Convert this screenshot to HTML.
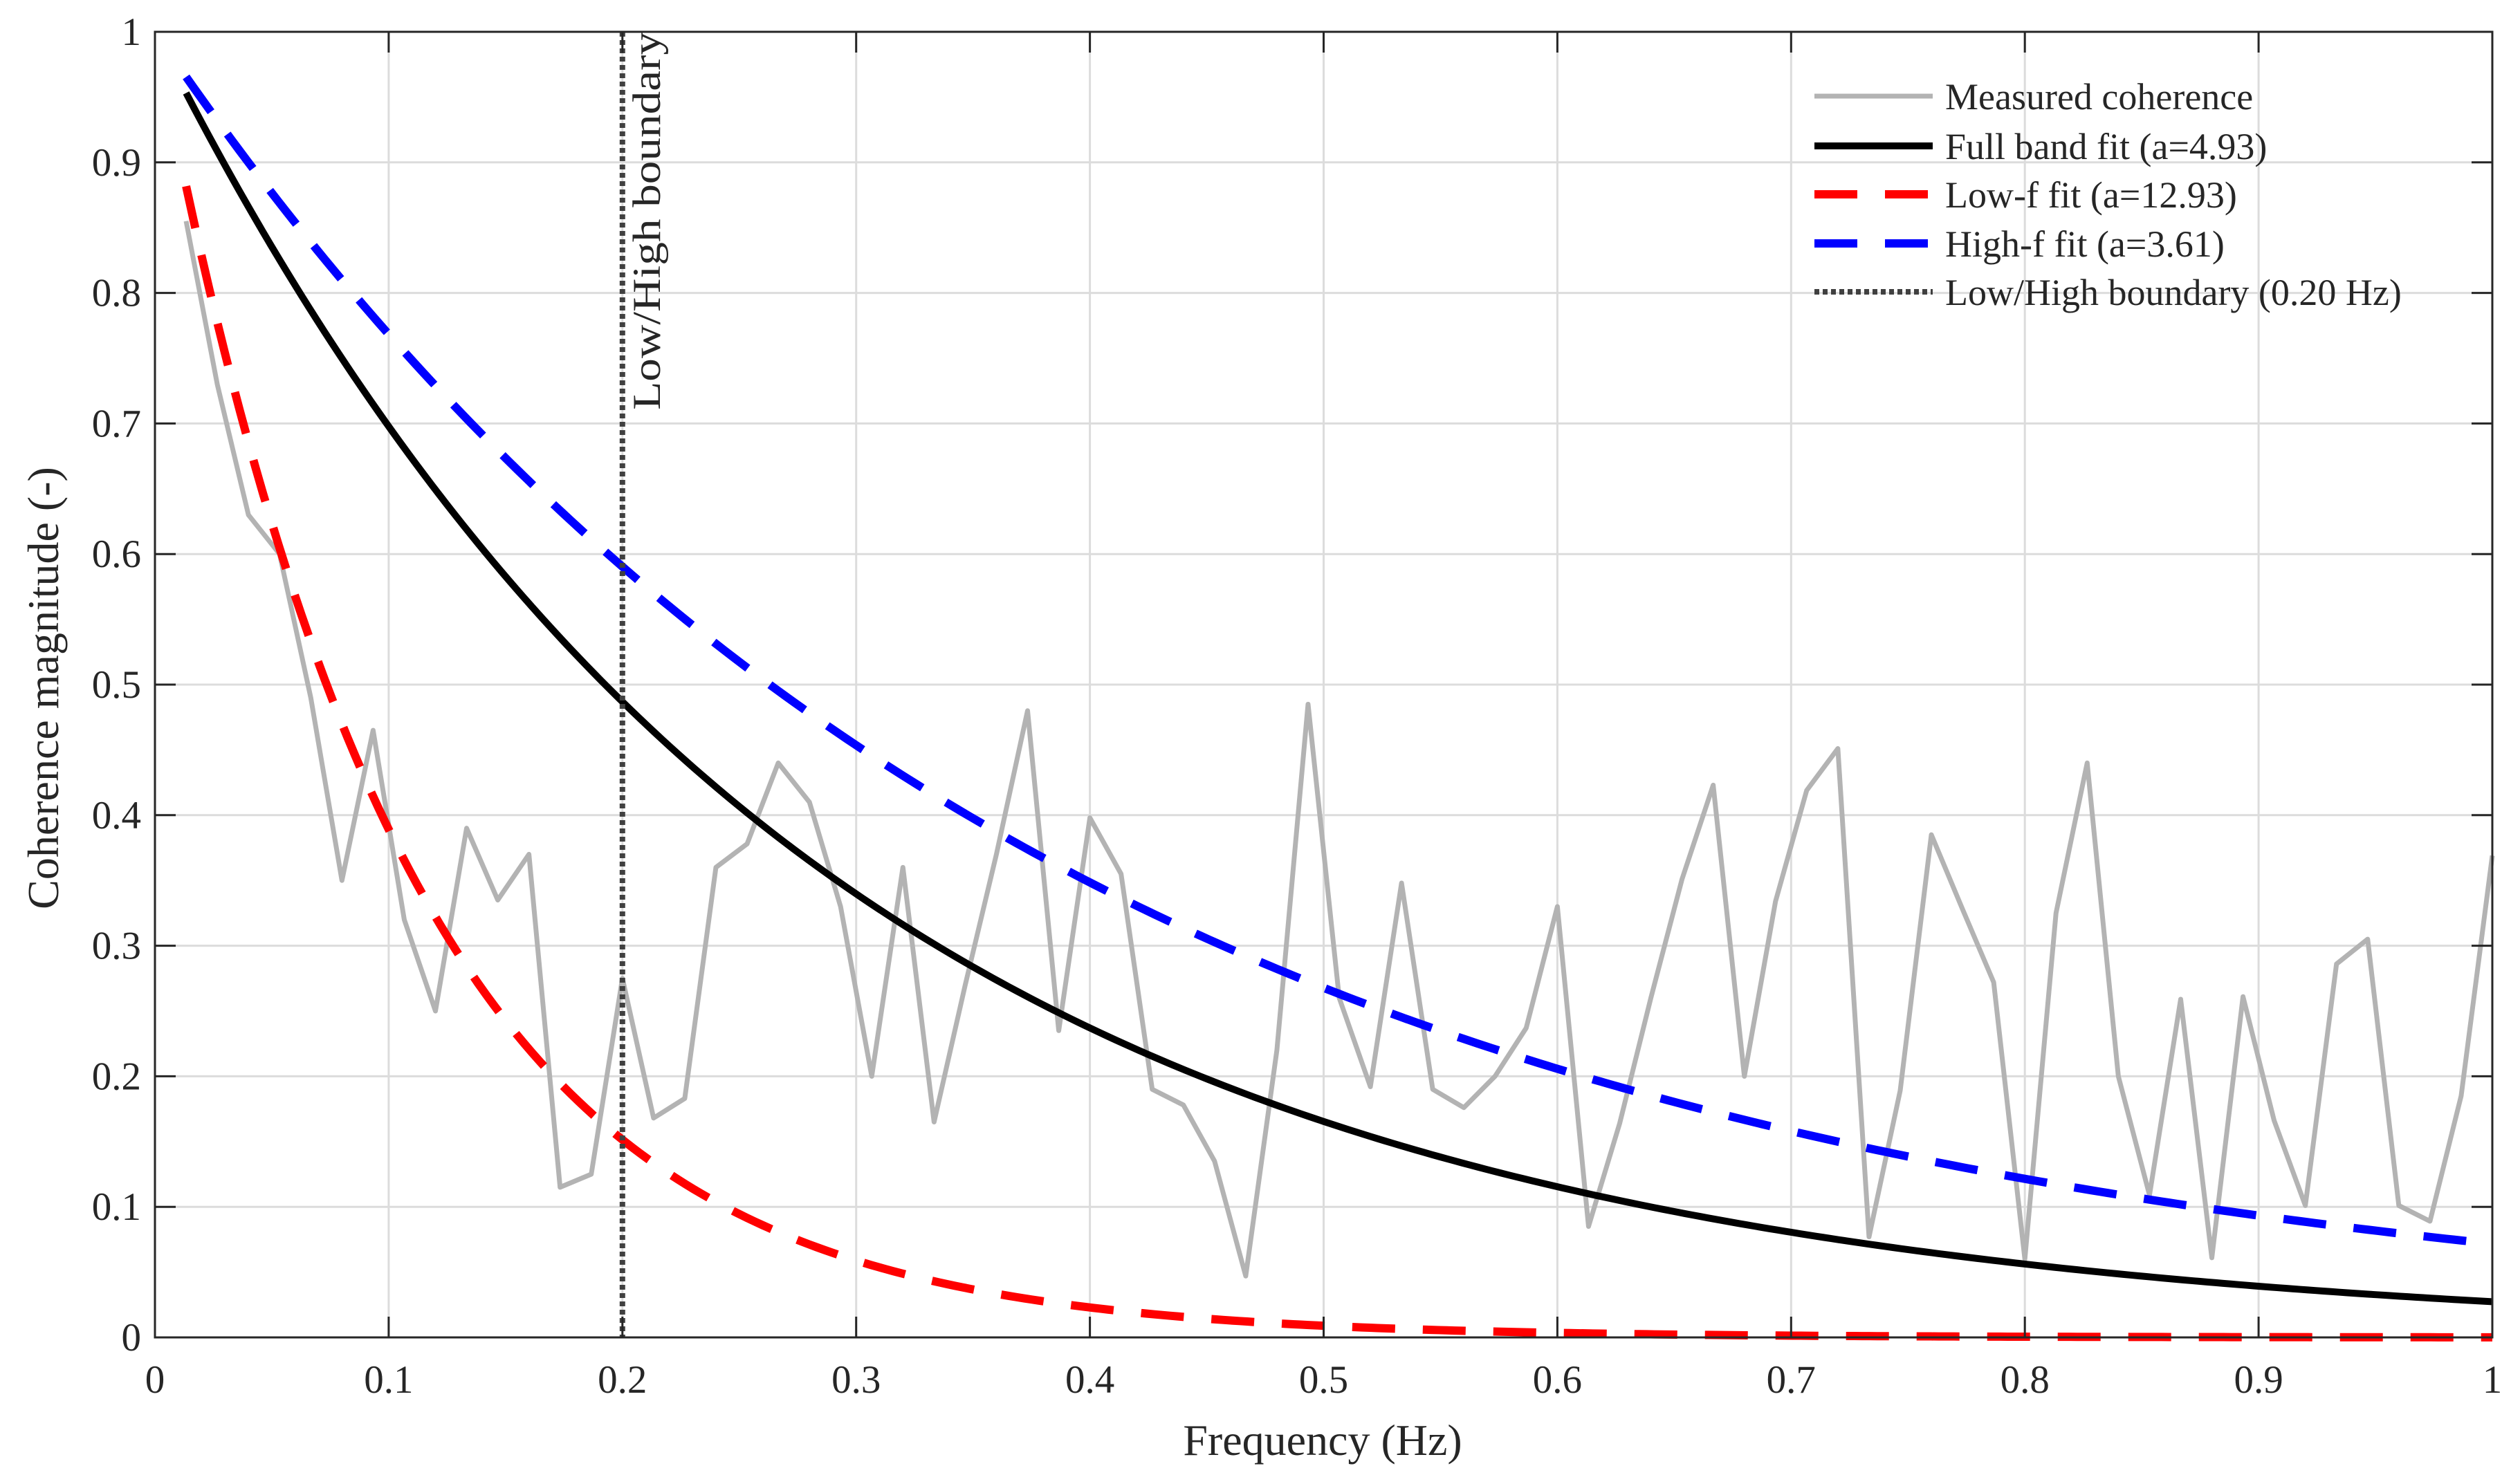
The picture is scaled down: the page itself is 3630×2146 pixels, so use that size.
<!DOCTYPE html>
<html><head><meta charset="utf-8"><style>
html,body{margin:0;padding:0;background:#fff;}
svg{display:block;font-family:"Liberation Serif",serif;}
</style></head><body>
<svg id="chart" width="3630" height="2146" viewBox="0 0 3630 2146" xmlns="http://www.w3.org/2000/svg">
<rect width="3630" height="2146" fill="#fff"/>
<g id="grid"></g>
<g id="series"></g>
<g id="axes"></g>
<g id="legend"></g>
</svg>
<script>
const xTicks = [0,0.1,0.2,0.3,0.4,0.5,0.6,0.7,0.8,0.9,1];
const xTickLabels = ["0","0.1","0.2","0.3","0.4","0.5","0.6","0.7","0.8","0.9","1"];
const yTicks = [0,0.1,0.2,0.3,0.4,0.5,0.6,0.7,0.8,0.9,1];
const yTickLabels = ["0","0.1","0.2","0.3","0.4","0.5","0.6","0.7","0.8","0.9","1"];
const measured = [0.855,0.73,0.63,0.60,0.49,0.35,0.465,0.32,0.25,0.39,0.335,0.37,0.115,0.125,0.275,0.168,0.183,0.36,0.378,0.44,0.41,0.33,0.20,0.36,0.165,0.27,0.37,0.48,0.235,0.398,0.355,0.19,0.178,0.135,0.047,0.22,0.485,0.26,0.192,0.348,0.19,0.176,0.20,0.237,0.33,0.085,0.164,0.26,0.351,0.423,0.20,0.334,0.419,0.451,0.077,0.189,0.385,0.328,0.272,0.06,0.325,0.44,0.20,0.109,0.259,0.061,0.261,0.166,0.101,0.286,0.305,0.101,0.089,0.185,0.369];
const freqStep = [1/75];
const fitNames = ["Full band fit (a=4.93)","Low-f fit (a=12.93)","High-f fit (a=3.61)"];
const fitA = [4.93, 12.93, 3.61];
const fitScale = [0.73];
const boundaryFreq = [0.20];

const X0=224, X1=3603, Y0=1934, Y1=46;
const sx = f => X0 + f*(X1-X0);
const sy = v => Y0 - v*(Y0-Y1);
const NS="http://www.w3.org/2000/svg";
function mk(tag, attrs, parent, text){
  const e=document.createElementNS(NS,tag);
  for(const k in attrs) e.setAttribute(k, attrs[k]);
  if(text!==undefined) e.textContent=text;
  parent.appendChild(e); return e;
}
const grid=document.getElementById('grid'), series=document.getElementById('series'), axes=document.getElementById('axes'), legend=document.getElementById('legend');

xTicks.forEach((t,i)=>{
  const l=mk('line',{x1:sx(t),x2:sx(t),y1:Y1,y2:Y0,stroke:'#dcdcdc','stroke-width':3},grid);
  
  
  const tk=mk('line',{x1:sx(t),x2:sx(t),y1:Y0,y2:Y0-30,stroke:'#262626','stroke-width':3},axes);
  
  
  const tk2=mk('line',{x1:sx(t),x2:sx(t),y1:Y1,y2:Y1+30,stroke:'#262626','stroke-width':3},axes);
  
  
  const tx=mk('text',{x:sx(t),y:2014,'text-anchor':'middle','font-size':57,fill:'#262626'},axes,xTickLabels[i]);
  
  
});
yTicks.forEach((t,i)=>{
  const l=mk('line',{x1:X0,x2:X1,y1:sy(t),y2:sy(t),stroke:'#dcdcdc','stroke-width':3},grid);
  
  
  const tk=mk('line',{x1:X0,x2:X0+30,y1:sy(t),y2:sy(t),stroke:'#262626','stroke-width':3},axes);
  
  
  const tk2=mk('line',{x1:X1,x2:X1-30,y1:sy(t),y2:sy(t),stroke:'#262626','stroke-width':3},axes);
  
  
  const tx=mk('text',{x:204,y:sy(t)+19,'text-anchor':'end','font-size':57,fill:'#262626'},axes,yTickLabels[i]);
  
  
});
const box=mk('rect',{x:X0,y:Y1,width:X1-X0,height:Y0-Y1,fill:'none',stroke:'#262626','stroke-width':3},axes);


const xt=mk('text',{x:1912,y:2104,'text-anchor':'middle','font-size':64,fill:'#262626'},axes,'Frequency (Hz)');


const yt=mk('text',{x:0,y:0,'text-anchor':'middle','font-size':64,fill:'#262626',transform:'translate(84,995) rotate(-90)'},axes,'Coherence magnitude (-)');



const freqs = measured.map((v,i)=>(i+1)*freqStep[0]);
const mp=mk('polyline',{points:measured.map((v,i)=>sx(freqs[i])+','+sy(v)).join(' '),fill:'none',stroke:'#b3b3b3','stroke-width':7,'stroke-linejoin':'round'},series);



function fitPts(a){
  const pts=[];
  for(let i=0;i<=300;i++){const f=freqs[0]+(1-freqs[0])*i/300; pts.push(sx(f)+','+sy(Math.exp(-a*fitScale[0]*f)));}
  return pts.join(' ');
}
const styles=[{c:'#000',w:10,d:''},{c:'#ff0000',w:12,d:'62 40'},{c:'#0000ff',w:12,d:'62 40'}];
const fitNamesK=['full-band-fit-line','low-f-fit-line','high-f-fit-line'];
[0,1,2].forEach(i=>{
  const s=styles[i];
  const a={points:fitPts(fitA[i]),fill:'none',stroke:s.c,'stroke-width':s.w};
  if(s.d) a['stroke-dasharray']=s.d;
  const p=mk('polyline',a,series);
  
  
});
const bl=mk('line',{x1:sx(boundaryFreq[0]),x2:sx(boundaryFreq[0]),y1:Y1,y2:Y0,stroke:'#404040','stroke-width':8,'stroke-dasharray':'7 5'},series);


const bt=mk('text',{x:0,y:0,'text-anchor':'end','font-size':64,fill:'#262626',transform:'translate('+(sx(boundaryFreq[0])+54)+','+(Y1)+') rotate(-90) scale(1.05,0.9)'},series,'Low/High boundary');



const legItems=[
 {t:'Measured coherence',c:'#b3b3b3',w:7,d:''},
 {t:fitNames[0],c:'#000',w:10,d:''},
 {t:fitNames[1],c:'#ff0000',w:12,d:'62 40'},
 {t:fitNames[2],c:'#0000ff',w:12,d:'62 40'},
 {t:'Low/High boundary (0.20 Hz)',c:'#404040',w:8,d:'7 5'}];
const legY=[139,211,281,352,422];
legItems.forEach((it,i)=>{
  const g=mk('g',{},legend);
  
  
  const la={x1:2623,x2:2794,y1:legY[i],y2:legY[i],stroke:it.c,'stroke-width':it.w};
  if(it.d) la['stroke-dasharray']=it.d;
  const l=mk('line',la,g);
  
  
  const t=mk('text',{x:2812,y:legY[i]+19,'font-size':54,fill:'#262626'},g,it.t);
  
  
});
</script>
</body></html>
